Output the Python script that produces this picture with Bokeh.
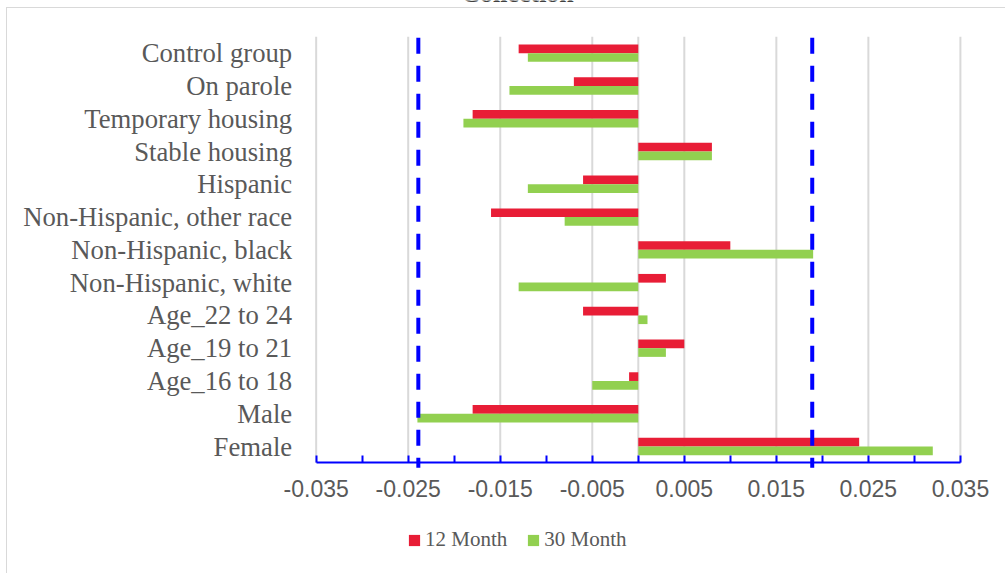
from bokeh.plotting import figure
from bokeh.models import (Range1d, FixedTicker, Legend, LegendItem,
                          Label, ColumnDataSource, InlineStyleSheet)
from bokeh.transform import dodge
from bokeh.embed import file_html
from bokeh.resources import INLINE

# Categories, listed top to bottom
categories = ["Control group", "On parole", "Temporary housing", "Stable housing",
              "Hispanic", "Non-Hispanic, other race", "Non-Hispanic, black",
              "Non-Hispanic, white", "Age_22 to 24", "Age_19 to 21", "Age_16 to 18",
              "Male", "Female"]
month12 = [-0.013, -0.007, -0.018, 0.008, -0.006, -0.016, 0.010, 0.003,
           -0.006, 0.005, -0.001, -0.018, 0.024]
month30 = [-0.012, -0.014, -0.019, 0.008, -0.012, -0.008, 0.019, -0.013,
           0.001, 0.003, -0.005, -0.024, 0.032]
thresholds = [-0.0239, 0.0189]
tick_labels = [-0.035, -0.025, -0.015, -0.005, 0.005, 0.015, 0.025, 0.035]
minor_ticks = [-0.03, -0.02, -0.01, 0.0, 0.01, 0.02, 0.03]

RED = "#E81D36"
GREEN = "#92D050"
GREY_TXT = "#595959"
GRID = "#D9D9D9"

n = len(categories)
ypos = [n - 1 - i for i in range(n)]          # first category on top
y_lo, y_hi = -0.5, n - 0.5                    # extent of the category band
x_lo, x_hi = tick_labels[0], tick_labels[-1]  # extent of the value axis

# room around the plotting band, in data units (labels, title, legend)
TOP_SPACE, BOTTOM_SPACE = 1.107, 3.374
LEFT_SPACE, RIGHT_SPACE = 0.0343, 0.0049

src = ColumnDataSource(dict(cat=categories, y=ypos, m12=month12, m30=month30))

p = figure(width=1005, height=573, output_backend="svg", toolbar_location=None,
           x_range=Range1d(x_lo - LEFT_SPACE, x_hi + RIGHT_SPACE),
           y_range=Range1d(y_lo - BOTTOM_SPACE, y_hi + TOP_SPACE),
           min_border=0)
p.outline_line_color = None
p.background_fill_color = "white"
p.border_fill_color = "white"
p.xgrid.grid_line_color = None
p.ygrid.grid_line_color = None

# thin grey frame around the chart area
p.stylesheets = [InlineStyleSheet(css="""
:host::after {
  content: "";
  position: absolute;
  left: 6px; top: 7px; right: 0; bottom: 0;
  border-left: 1px solid #D9D9D9;
  border-top: 1px solid #D9D9D9;
  pointer-events: none;
}
""")]

# vertical gridlines at the labelled ticks, limited to the category band
p.segment(x0=tick_labels, x1=tick_labels, y0=y_lo, y1=y_hi,
          line_color=GRID, line_width=2)
# category axis at zero
p.segment(x0=[0], x1=[0], y0=y_lo, y1=y_hi, line_color=GRID, line_width=2)

r12 = p.hbar(y=dodge("y", 0.1325), left=0, right="m12",
             height=0.265, source=src, fill_color=RED, line_color=None)
r30 = p.hbar(y=dodge("y", -0.1325), left=0, right="m30",
             height=0.265, source=src, fill_color=GREEN, line_color=None)

# x axis drawn along the bottom of the category band
xa = p.xaxis[0]
xa.fixed_location = y_lo
xa.bounds = (x_lo, x_hi)
xa.ticker = FixedTicker(ticks=tick_labels, minor_ticks=minor_ticks)
xa.axis_line_color = "#0000FF"
xa.axis_line_width = 2
xa.major_tick_line_color = "#0000FF"
xa.major_tick_line_width = 2
xa.minor_tick_line_color = "#0000FF"
xa.minor_tick_line_width = 2
xa.major_tick_in = 7
xa.major_tick_out = 0
xa.minor_tick_in = 7
xa.minor_tick_out = 0
xa.major_label_text_font = "Liberation Sans"
xa.major_label_text_font_size = "23px"
xa.major_label_text_color = GREY_TXT
xa.major_label_standoff = 17
xa.major_label_overrides = {v: f"{v:.3f}" for v in tick_labels}

# reference bounds (drawn over the axis line)
p.segment(x0=thresholds, x1=thresholds, y0=y_hi, y1=y_lo - 0.15,
          line_color="#0000FF", line_width=4, line_dash="16 12",
          line_dash_offset=-1)

# y axis with category names, along the left edge of the band
ya = p.yaxis[0]
ya.fixed_location = x_lo
ya.bounds = (y_lo, y_hi)
ya.ticker = FixedTicker(ticks=ypos, minor_ticks=[])
ya.major_label_overrides = {y: c for y, c in zip(ypos, categories)}
ya.axis_line_color = None
ya.major_tick_line_color = None
ya.minor_tick_line_color = None
ya.major_tick_in = 0
ya.major_tick_out = 0
ya.major_label_text_font = "Liberation Serif"
ya.major_label_text_font_size = "26.7px"
ya.major_label_text_color = GREY_TXT
ya.major_label_standoff = 24

legend = Legend(items=[LegendItem(label="12 Month", renderers=[r12]),
                       LegendItem(label="30 Month", renderers=[r30])],
                orientation="horizontal", location=(407, 21),
                glyph_width=14, glyph_height=14, label_standoff=4, spacing=19,
                padding=0, margin=0, border_line_color=None,
                background_fill_alpha=0,
                label_text_font="Liberation Serif", label_text_font_size="21px",
                label_text_color=GREY_TXT)
p.add_layout(legend, "center")

# chart title, sitting at the very top edge of the page
p.add_layout(Label(x=517, y=580, x_units="screen", y_units="screen",
                   text="Collection", text_font="Liberation Serif",
                   text_font_style="bold", text_font_size="26px",
                   text_color="#404040", text_align="center",
                   text_baseline="alphabetic"))

open("out.html", "w").write(file_html(p, INLINE))
